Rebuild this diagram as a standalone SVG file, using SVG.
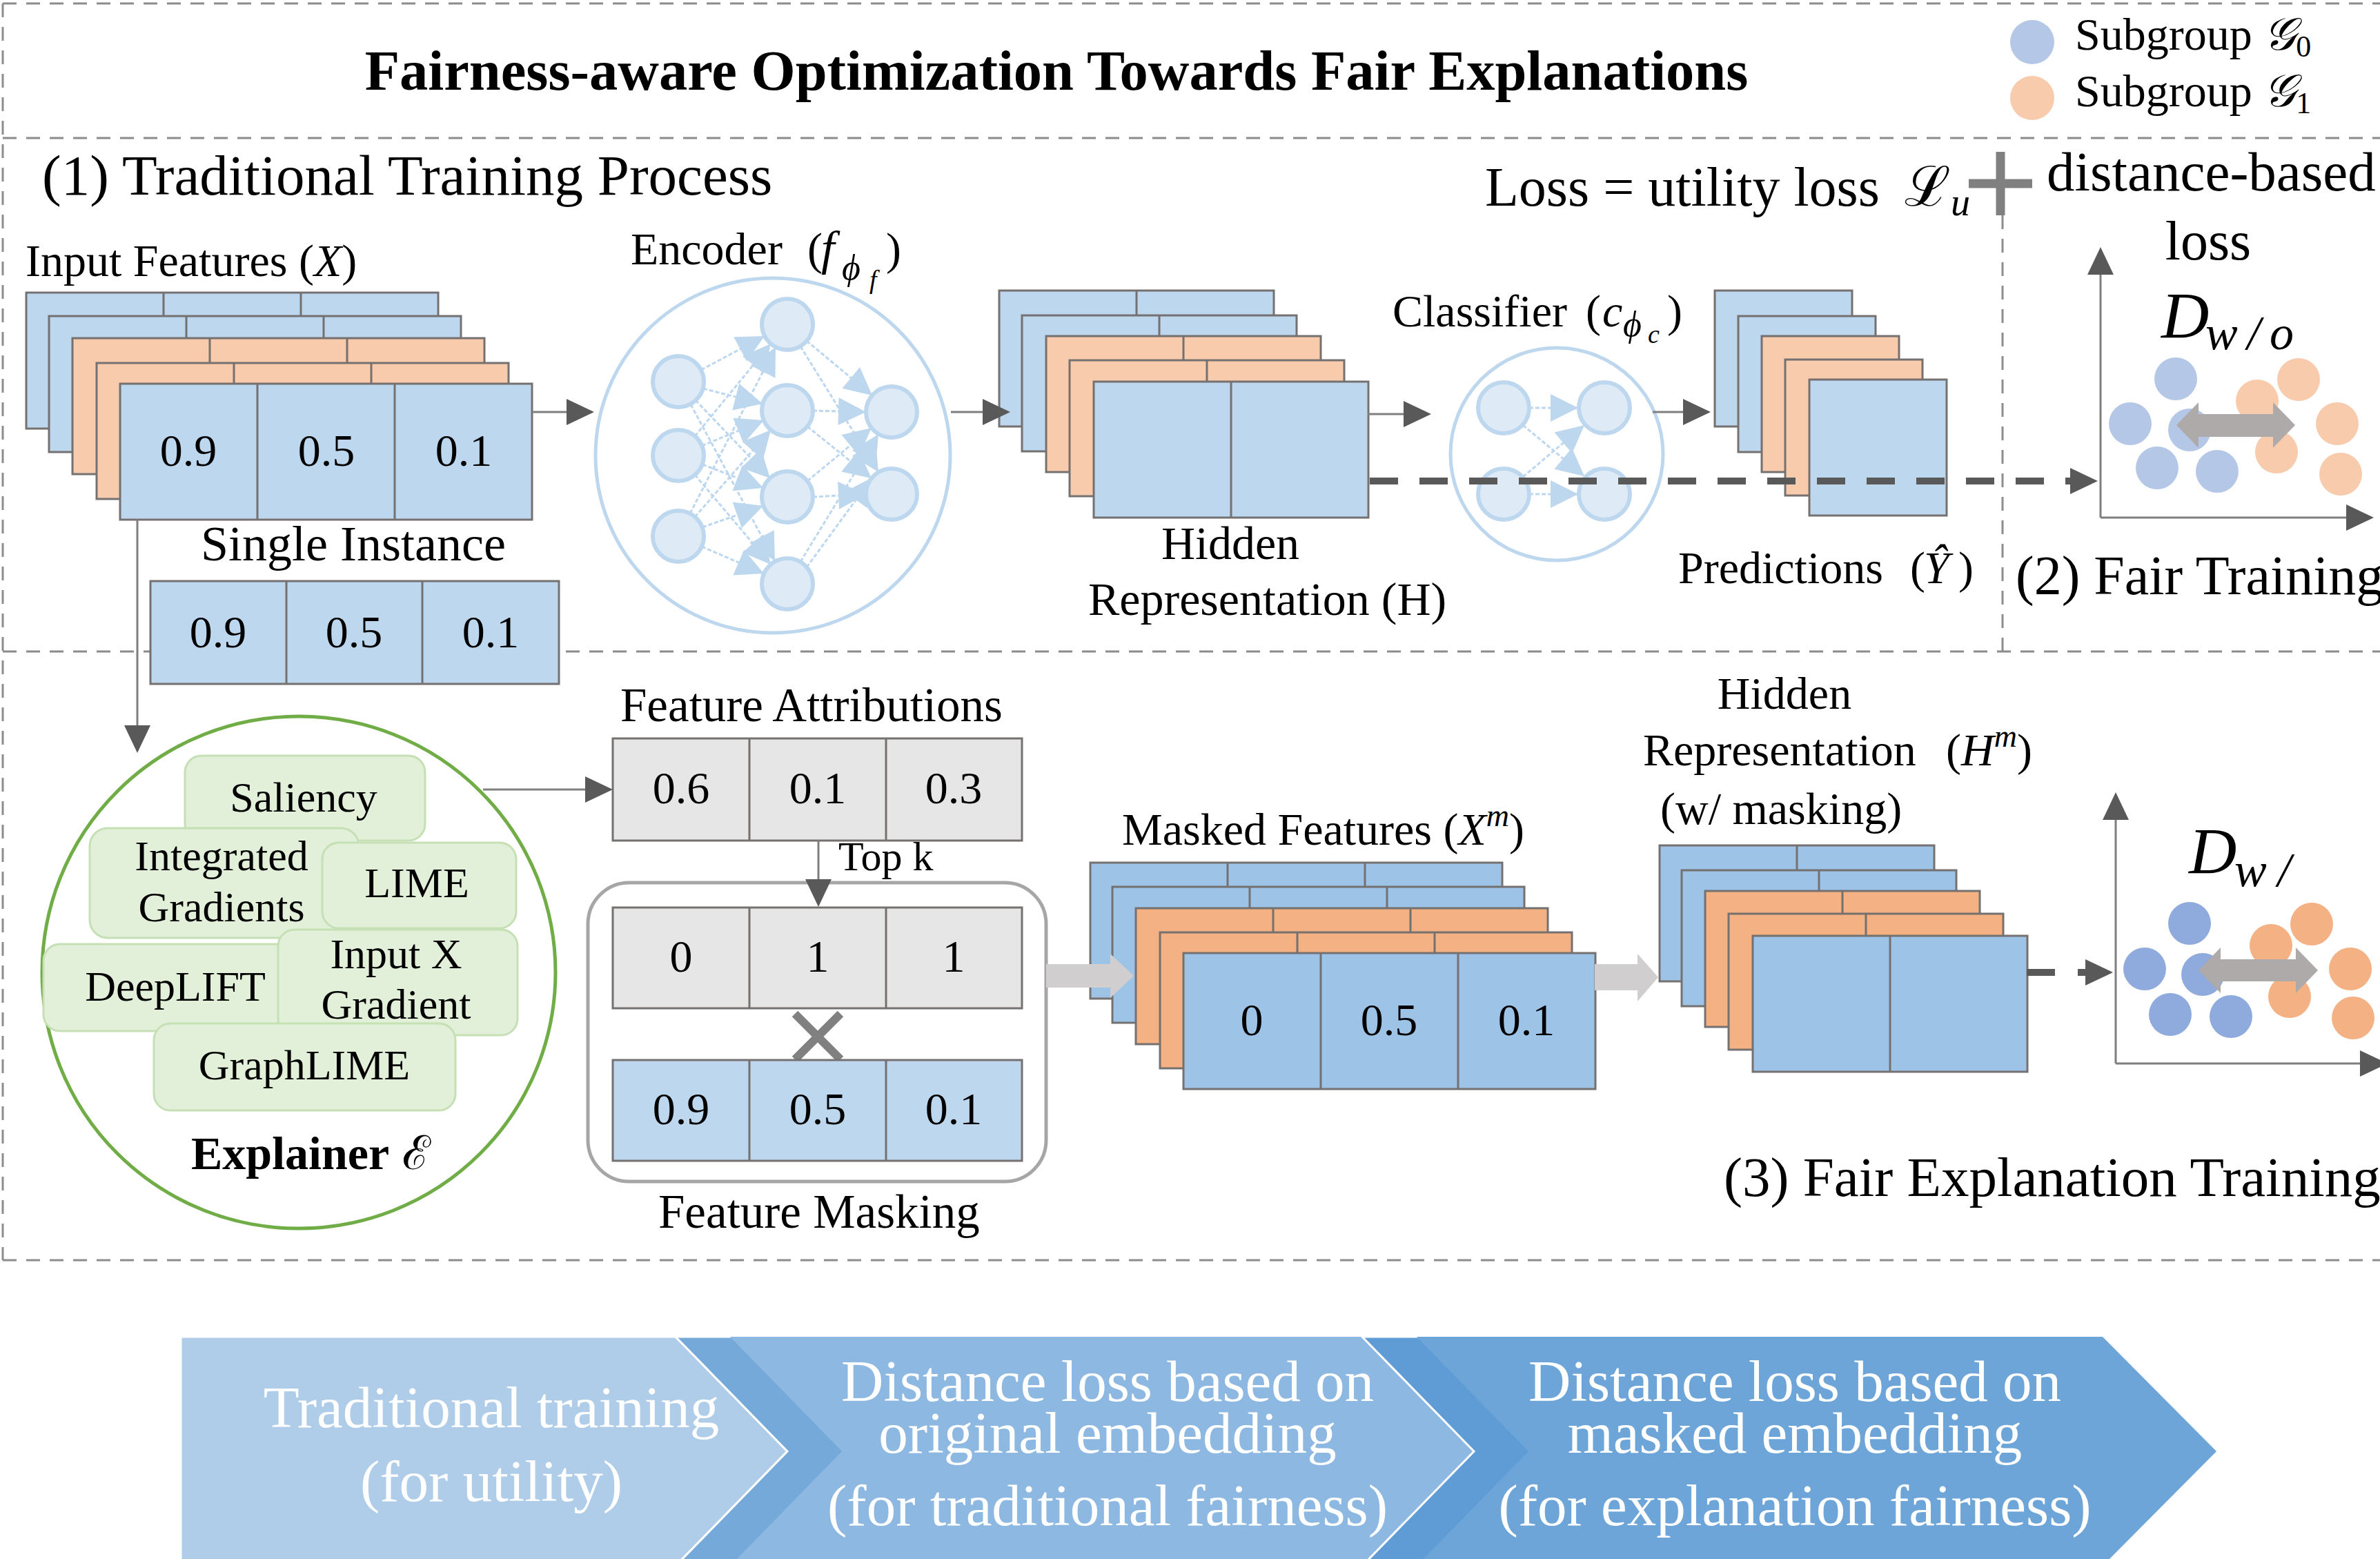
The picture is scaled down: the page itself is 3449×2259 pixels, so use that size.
<svg xmlns="http://www.w3.org/2000/svg" xmlns:xlink="http://www.w3.org/1999/xlink" width="3449" height="2259" viewBox="0 0 3449 2259">
  <style>
    text { font-family: "Liberation Serif", "DejaVu Serif", serif; fill: #000; }
    .lbl { font-size: 66px; }
    .big { font-size: 80px; }
    .num { font-size: 66px; text-anchor: middle; }
    .it { font-style: italic; }
    .gbox { fill: #e2f0d9; stroke: #c5e0b4; stroke-width: 3; }
    .gtxt { font-size: 62px; text-anchor: middle; }
    .node { fill: #deebf7; stroke: #bdd7ee; stroke-width: 6; }
    .nedge { stroke: #bdd7ee; stroke-width: 3; stroke-dasharray: 6 3; fill: none; marker-end: url(#nh); }
    .conn { stroke: #7f7f7f; stroke-width: 3; fill: none; marker-end: url(#ah); }
    .dash { stroke: #595959; stroke-width: 10; fill: none; marker-end: url(#ah); }
    .axis { stroke: #7f7f7f; stroke-width: 3; fill: none; marker-end: url(#ah); }
    .chtxt { font-size: 85px; fill: #ffffff; text-anchor: middle; }
  </style>
  <defs>
    <marker id="ah" markerUnits="userSpaceOnUse" markerWidth="40" markerHeight="38" refX="0" refY="19" orient="auto" overflow="visible">
      <path d="M0 0 L40 19 L0 38 Z" fill="#595959"/>
    </marker>
    <marker id="nh" markerUnits="userSpaceOnUse" markerWidth="40" markerHeight="40" refX="40" refY="20" orient="auto" overflow="visible">
      <path d="M0 0 L40 20 L0 40 Z" fill="#bdd7ee"/>
    </marker>
    <!-- feature cards: three cells, two cells, one cell -->
    <g id="c3" stroke="#767171" stroke-width="3">
      <rect width="597" height="197"/>
      <path d="M199 0V197M398 0V197" fill="none"/>
    </g>
    <g id="c2" stroke="#767171" stroke-width="3">
      <rect width="398" height="197"/>
      <path d="M199 0V197" fill="none"/>
    </g>
    <g id="c1" stroke="#767171" stroke-width="3">
      <rect width="199" height="197"/>
    </g>
  </defs>

  <rect width="3449" height="2259" fill="#ffffff"/>

  <!-- dashed panel frame -->
  <g id="frame" fill="none" stroke="#8c8c8c" stroke-width="3" stroke-dasharray="20 14">
    <line x1="4" y1="5" x2="3449" y2="5"/>
    <line x1="4" y1="5" x2="4" y2="1826"/>
    <line x1="4" y1="200" x2="3449" y2="200"/>
    <line x1="4" y1="944" x2="3449" y2="944"/>
    <line x1="4" y1="1826" x2="3449" y2="1826"/>
    <line x1="2902" y1="312" x2="2902" y2="944"/>
  </g>

  <g id="title">
    <text x="1531" y="130" text-anchor="middle" font-weight="bold" font-size="82.5">Fairness-aware Optimization Towards Fair Explanations</text>
  </g>

  <g id="legend">
    <circle cx="2945" cy="61" r="32" fill="#b4c7e7"/>
    <circle cx="2945" cy="142" r="32" fill="#f8cbad"/>
    <text class="lbl" x="3007" y="72">Subgroup <tspan class="it">𝒢</tspan><tspan font-size="44" dy="10">0</tspan></text>
    <text class="lbl" x="3007" y="154">Subgroup <tspan class="it">𝒢</tspan><tspan font-size="44" dy="10">1</tspan></text>
  </g>

  <g id="section-labels">
    <text x="61" y="282" font-size="83">(1) Traditional Training Process</text>
    <text class="big" x="2921" y="861">(2) Fair Training</text>
    <text x="2498" y="1733" font-size="81">(3) Fair Explanation Training</text>
  </g>

  <g id="loss">
    <text class="big" x="2152" y="298">Loss = utility loss</text>
    <text class="big" x="2760" y="298">ℒ</text>
    <text class="it" font-size="56" x="2827" y="312">u</text>
    <path d="M2853 266H2945M2899 220V312" stroke="#808080" stroke-width="13" fill="none"/>
    <text x="2966" y="276" font-size="81">distance-based</text>
    <text class="big" x="3200" y="376" text-anchor="middle">loss</text>
  </g>

  <!-- input features -->
  <g id="input-features">
    <text class="lbl" x="37" y="400">Input Features (<tspan class="it">X</tspan>)</text>
    <use xlink:href="#c3" x="38" y="424" fill="#bdd7ee"/>
    <use xlink:href="#c3" x="71" y="458" fill="#bdd7ee"/>
    <use xlink:href="#c3" x="105" y="490" fill="#f8cbad"/>
    <use xlink:href="#c3" x="140" y="526" fill="#f8cbad"/>
    <use xlink:href="#c3" x="174" y="556" fill="#bdd7ee"/>
    <text class="num" x="273" y="675">0.9</text>
    <text class="num" x="473" y="675">0.5</text>
    <text class="num" x="672" y="675">0.1</text>
  </g>

  <g id="single-instance">
    <text x="291" y="812" font-size="72">Single Instance</text>
    <rect x="218" y="842" width="592" height="149" fill="#bdd7ee" stroke="#767171" stroke-width="3"/>
    <path d="M415 842V991M612 842V991" stroke="#767171" stroke-width="3"/>
    <text class="num" x="316" y="938">0.9</text>
    <text class="num" x="513" y="938">0.5</text>
    <text class="num" x="711" y="938">0.1</text>
  </g>

  <!-- encoder network -->
  <g id="encoder">
    <text class="lbl" x="914" y="383">Encoder</text>
    <text class="lbl" x="1170" y="383">(<tspan class="it" x="1190" font-size="70">f</tspan><tspan class="it" font-size="52" x="1220" y="405">ϕ</tspan><tspan class="it" font-size="38" x="1260" y="418">f</tspan><tspan x="1284" y="383">)</tspan></text>
    <circle cx="1120" cy="660" r="257" fill="none" stroke="#bdd7ee" stroke-width="5"/>
    <g>
      <line class="nedge" x1="1016" y1="536" x2="1108" y2="487"/>
      <line class="nedge" x1="1019" y1="563" x2="1105" y2="585"/>
      <line class="nedge" x1="1008" y1="580" x2="1116" y2="693"/>
      <line class="nedge" x1="1001" y1="586" x2="1123" y2="813"/>
      <line class="nedge" x1="1007" y1="632" x2="1117" y2="498"/>
      <line class="nedge" x1="1017" y1="646" x2="1107" y2="609"/>
      <line class="nedge" x1="1018" y1="673" x2="1106" y2="707"/>
      <line class="nedge" x1="1007" y1="688" x2="1117" y2="818"/>
      <line class="nedge" x1="1000" y1="744" x2="1124" y2="503"/>
      <line class="nedge" x1="1007" y1="749" x2="1117" y2="623"/>
      <line class="nedge" x1="1018" y1="764" x2="1106" y2="733"/>
      <line class="nedge" x1="1017" y1="792" x2="1107" y2="831"/>
      <line class="nedge" x1="1169" y1="494" x2="1264" y2="573"/>
      <line class="nedge" x1="1160" y1="502" x2="1273" y2="684"/>
      <line class="nedge" x1="1178" y1="595" x2="1255" y2="597"/>
      <line class="nedge" x1="1170" y1="618" x2="1263" y2="693"/>
      <line class="nedge" x1="1170" y1="697" x2="1263" y2="620"/>
      <line class="nedge" x1="1178" y1="720" x2="1255" y2="716"/>
      <line class="nedge" x1="1160" y1="814" x2="1273" y2="629"/>
      <line class="nedge" x1="1169" y1="822" x2="1264" y2="692"/>
    </g>
    <circle class="node" cx="983" cy="553" r="37"/>
    <circle class="node" cx="983" cy="660" r="37"/>
    <circle class="node" cx="983" cy="777" r="37"/>
    <circle class="node" cx="1141" cy="470" r="37"/>
    <circle class="node" cx="1141" cy="595" r="37"/>
    <circle class="node" cx="1141" cy="720" r="37"/>
    <circle class="node" cx="1141" cy="846" r="37"/>
    <circle class="node" cx="1292" cy="597" r="37"/>
    <circle class="node" cx="1292" cy="716" r="37"/>
  </g>

  <g id="hidden-representation">
    <use xlink:href="#c2" x="1448" y="421" fill="#bdd7ee"/>
    <use xlink:href="#c2" x="1481" y="457" fill="#bdd7ee"/>
    <use xlink:href="#c2" x="1516" y="487" fill="#f8cbad"/>
    <use xlink:href="#c2" x="1550" y="522" fill="#f8cbad"/>
    <use xlink:href="#c2" x="1585" y="553" fill="#bdd7ee"/>
    <text x="1783" y="810" font-size="68" text-anchor="middle">Hidden</text>
    <text x="1577" y="891" font-size="68">Representation (H)</text>
  </g>

  <g id="classifier">
    <text class="lbl" x="2018" y="473">Classifier</text>
    <text class="lbl" x="2298" y="473">(<tspan class="it" x="2322">c</tspan><tspan class="it" font-size="52" x="2352" y="487">ϕ</tspan><tspan class="it" font-size="38" x="2388" y="497">c</tspan><tspan x="2416" y="473">)</tspan></text>
    <circle cx="2256" cy="658" r="154" fill="none" stroke="#bdd7ee" stroke-width="5"/>
    <line class="nedge" x1="2216" y1="591" x2="2287" y2="591"/>
    <line class="nedge" x1="2207" y1="616" x2="2296" y2="690"/>
    <line class="nedge" x1="2207" y1="691" x2="2296" y2="616"/>
    <line class="nedge" x1="2216" y1="716" x2="2287" y2="716"/>
    <circle class="node" cx="2179" cy="591" r="37"/>
    <circle class="node" cx="2179" cy="716" r="37"/>
    <circle class="node" cx="2325" cy="591" r="37"/>
    <circle class="node" cx="2325" cy="716" r="37"/>
  </g>

  <g id="predictions">
    <use xlink:href="#c1" x="2485" y="421" fill="#bdd7ee"/>
    <use xlink:href="#c1" x="2519" y="458" fill="#bdd7ee"/>
    <use xlink:href="#c1" x="2553" y="487" fill="#f8cbad"/>
    <use xlink:href="#c1" x="2587" y="521" fill="#f8cbad"/>
    <use xlink:href="#c1" x="2622" y="550" fill="#bdd7ee"/>
    <text class="lbl" x="2432" y="845">Predictions</text>
    <text class="lbl" x="2768" y="845">(<tspan class="it" x="2788">Ŷ</tspan><tspan x="2838">)</tspan></text>
  </g>

  <!-- scatter without masking -->
  <g id="plot-fair-training">
    <line class="axis" x1="3044" y1="750" x2="3044" y2="398"/>
    <line class="axis" x1="3044" y1="750" x2="3400" y2="750"/>
    <text class="it" font-size="96" x="3132" y="490">D</text>
    <text class="it" font-size="70" x="3196" y="506" textLength="128" lengthAdjust="spacing">w/o</text>
    <g fill="#b4c7e7">
      <circle cx="3153" cy="549" r="31"/>
      <circle cx="3087" cy="614" r="31"/>
      <circle cx="3173" cy="623" r="31"/>
      <circle cx="3126" cy="678" r="31"/>
      <circle cx="3213" cy="683" r="31"/>
    </g>
    <g fill="#f8cbad">
      <circle cx="3331" cy="550" r="31"/>
      <circle cx="3271" cy="581" r="31"/>
      <circle cx="3387" cy="614" r="31"/>
      <circle cx="3299" cy="655" r="31"/>
      <circle cx="3392" cy="687" r="31"/>
    </g>
    <polygon points="3154,616 3186,583 3186,600 3294,600 3294,583 3326,616 3294,649 3294,633 3186,633 3186,649" fill="#aeaaaa"/>
  </g>

  <!-- explainer -->
  <g id="explainer">
    <ellipse cx="433" cy="1409" rx="372" ry="371" fill="none" stroke="#70ad47" stroke-width="5"/>
    <g id="saliency">
      <rect class="gbox" x="268" y="1095" width="348" height="123" rx="24"/>
      <text class="gtxt" x="440" y="1176">Saliency</text>
    </g>
    <g id="integrated-gradients">
      <rect class="gbox" x="130" y="1200" width="390" height="159" rx="26"/>
      <text class="gtxt" x="321" y="1261">Integrated</text>
      <text class="gtxt" x="321" y="1335">Gradients</text>
    </g>
    <g id="lime">
      <rect class="gbox" x="467" y="1221" width="281" height="124" rx="24"/>
      <text class="gtxt" x="604" y="1300">LIME</text>
    </g>
    <g id="deeplift">
      <rect class="gbox" x="63" y="1368" width="360" height="126" rx="24"/>
      <text class="gtxt" x="254" y="1450">DeepLIFT</text>
    </g>
    <g id="input-x-gradient">
      <rect class="gbox" x="403" y="1347" width="347" height="153" rx="24"/>
      <text class="gtxt" x="574" y="1403">Input X</text>
      <text class="gtxt" x="574" y="1476">Gradient</text>
    </g>
    <g id="graphlime">
      <rect class="gbox" x="223" y="1483" width="437" height="126" rx="24"/>
      <text class="gtxt" x="441" y="1564">GraphLIME</text>
    </g>
    <text x="277" y="1694" font-size="68" font-weight="bold">Explainer</text>
    <text x="583" y="1694" font-size="68">ℰ</text>
  </g>

  <g id="feature-attributions">
    <text x="899" y="1045" font-size="69">Feature Attributions</text>
    <rect x="888" y="1070" width="593" height="148" fill="#e7e6e6" stroke="#767171" stroke-width="3"/>
    <path d="M1086 1070V1218M1284 1070V1218" stroke="#767171" stroke-width="3"/>
    <text class="num" x="987" y="1164">0.6</text>
    <text class="num" x="1185" y="1164">0.1</text>
    <text class="num" x="1382" y="1164">0.3</text>
    <text x="1215" y="1261" font-size="60">Top k</text>
  </g>

  <g id="feature-masking">
    <rect x="852" y="1279" width="664" height="433" rx="60" fill="none" stroke="#a6a6a6" stroke-width="5"/>
    <rect x="888" y="1315" width="593" height="146" fill="#e7e6e6" stroke="#767171" stroke-width="3"/>
    <path d="M1086 1315V1461M1284 1315V1461" stroke="#767171" stroke-width="3"/>
    <text class="num" x="987" y="1408">0</text>
    <text class="num" x="1185" y="1408">1</text>
    <text class="num" x="1382" y="1408">1</text>
    <path d="M1152 1469L1218 1535M1218 1469L1152 1535" stroke="#808080" stroke-width="12"/>
    <rect x="888" y="1536" width="593" height="146" fill="#bdd7ee" stroke="#767171" stroke-width="3"/>
    <path d="M1086 1536V1682M1284 1536V1682" stroke="#767171" stroke-width="3"/>
    <text class="num" x="987" y="1629">0.9</text>
    <text class="num" x="1185" y="1629">0.5</text>
    <text class="num" x="1382" y="1629">0.1</text>
    <text x="954" y="1779" font-size="69">Feature Masking</text>
  </g>

  <g id="masked-features">
    <text class="lbl" x="1626" y="1224">Masked Features (<tspan class="it">X</tspan><tspan class="it" font-size="46" dy="-27">m</tspan><tspan dy="27">)</tspan></text>
    <use xlink:href="#c3" x="1580" y="1250" fill="#9dc3e6"/>
    <use xlink:href="#c3" x="1612" y="1285" fill="#9dc3e6"/>
    <use xlink:href="#c3" x="1646" y="1316" fill="#f4b183"/>
    <use xlink:href="#c3" x="1681" y="1351" fill="#f4b183"/>
    <use xlink:href="#c3" x="1715" y="1381" fill="#9dc3e6"/>
    <text class="num" x="1814" y="1500">0</text>
    <text class="num" x="2013" y="1500">0.5</text>
    <text class="num" x="2212" y="1500">0.1</text>
  </g>

  <g id="hidden-representation-masked">
    <text class="lbl" x="2586" y="1027" text-anchor="middle">Hidden</text>
    <text class="lbl" x="2381" y="1109">Representation</text>
    <text class="lbl" x="2820" y="1109">(<tspan class="it">H</tspan><tspan class="it" font-size="46" dy="-27">m</tspan><tspan dy="27">)</tspan></text>
    <text class="lbl" x="2406" y="1194">(w/ masking)</text>
    <use xlink:href="#c2" x="2405" y="1225" fill="#9dc3e6"/>
    <use xlink:href="#c2" x="2437" y="1261" fill="#9dc3e6"/>
    <use xlink:href="#c2" x="2471" y="1291" fill="#f4b183"/>
    <use xlink:href="#c2" x="2505" y="1324" fill="#f4b183"/>
    <use xlink:href="#c2" x="2540" y="1356" fill="#9dc3e6"/>
  </g>

  <!-- scatter with masking -->
  <g id="plot-fair-explanation">
    <line class="axis" x1="3066" y1="1541" x2="3066" y2="1188"/>
    <line class="axis" x1="3066" y1="1541" x2="3420" y2="1541"/>
    <text class="it" font-size="96" x="3172" y="1266">D</text>
    <text class="it" font-size="70" x="3238" y="1284" textLength="82" lengthAdjust="spacing">w/</text>
    <g fill="#8faadc">
      <circle cx="3173" cy="1338" r="31"/>
      <circle cx="3108" cy="1404" r="31"/>
      <circle cx="3192" cy="1412" r="31"/>
      <circle cx="3145" cy="1470" r="31"/>
      <circle cx="3233" cy="1473" r="31"/>
    </g>
    <g fill="#f4b183">
      <circle cx="3350" cy="1339" r="31"/>
      <circle cx="3291" cy="1370" r="31"/>
      <circle cx="3406" cy="1404" r="31"/>
      <circle cx="3318" cy="1444" r="31"/>
      <circle cx="3410" cy="1475" r="31"/>
    </g>
    <polygon points="3186,1406 3218,1373 3218,1390 3327,1390 3327,1373 3359,1406 3327,1439 3327,1422 3218,1422 3218,1439" fill="#aeaaaa"/>
  </g>

  <!-- connectors -->
  <g id="connectors">
    <line class="conn" x1="771" y1="597" x2="821" y2="597"/>
    <line class="conn" x1="1378" y1="597" x2="1424" y2="597"/>
    <line class="conn" x1="1982" y1="600" x2="2034" y2="600"/>
    <line class="conn" x1="2395" y1="597" x2="2439" y2="597"/>
    <line class="dash" x1="1985" y1="697" x2="3000" y2="697" stroke-dasharray="41 31"/>
    <line class="conn" x1="199" y1="753" x2="199" y2="1051"/>
    <line class="conn" x1="700" y1="1144" x2="848" y2="1144"/>
    <line class="conn" x1="1186" y1="1218" x2="1186" y2="1274"/>
    <line class="dash" x1="2937" y1="1409" x2="3022" y2="1409" stroke-dasharray="41 33"/>
    <polygon points="1516,1397 1609,1397 1609,1382 1643,1414 1609,1446 1609,1431 1516,1431" fill="#d0cece"/>
    <polygon points="2311,1397 2373,1397 2373,1382 2403,1416 2373,1451 2373,1435 2311,1435" fill="#d0cece"/>
  </g>

  <!-- stage chevrons -->
  <g id="stage-1">
    <polygon points="262,1937 979,1937 1141,2103 979,2269 262,2269" fill="#afcce9" stroke="#ffffff" stroke-width="3"/>
    <text class="chtxt" x="712" y="2068">Traditional training</text>
    <text class="chtxt" x="712" y="2175">(for utility)</text>
  </g>
  <g id="stage-2">
    <polygon points="979,1937 1974,1937 2136,2103 1974,2269 979,2269 1141,2103" fill="#74a9da" stroke="#ffffff" stroke-width="3"/>
    <polygon points="1058,1937 1974,1937 2136,2103 1974,2269 1058,2269 1220,2103" fill="#8db8e1"/>
    <text class="chtxt" x="1605" y="2030">Distance loss based on</text>
    <text class="chtxt" x="1605" y="2105">original embedding</text>
    <text class="chtxt" x="1605" y="2210">(for traditional fairness)</text>
  </g>
  <g id="stage-3">
    <polygon points="1974,1937 3047,1937 3212,2103 3047,2269 1974,2269 2136,2103" fill="#5f9cd5" stroke="#ffffff" stroke-width="3"/>
    <polygon points="2053,1937 3047,1937 3212,2103 3047,2269 2053,2269 2215,2103" fill="#6da5d9"/>
    <text class="chtxt" x="2601" y="2030">Distance loss based on</text>
    <text class="chtxt" x="2601" y="2105">masked embedding</text>
    <text class="chtxt" x="2601" y="2210">(for explanation fairness)</text>
  </g>
</svg>
